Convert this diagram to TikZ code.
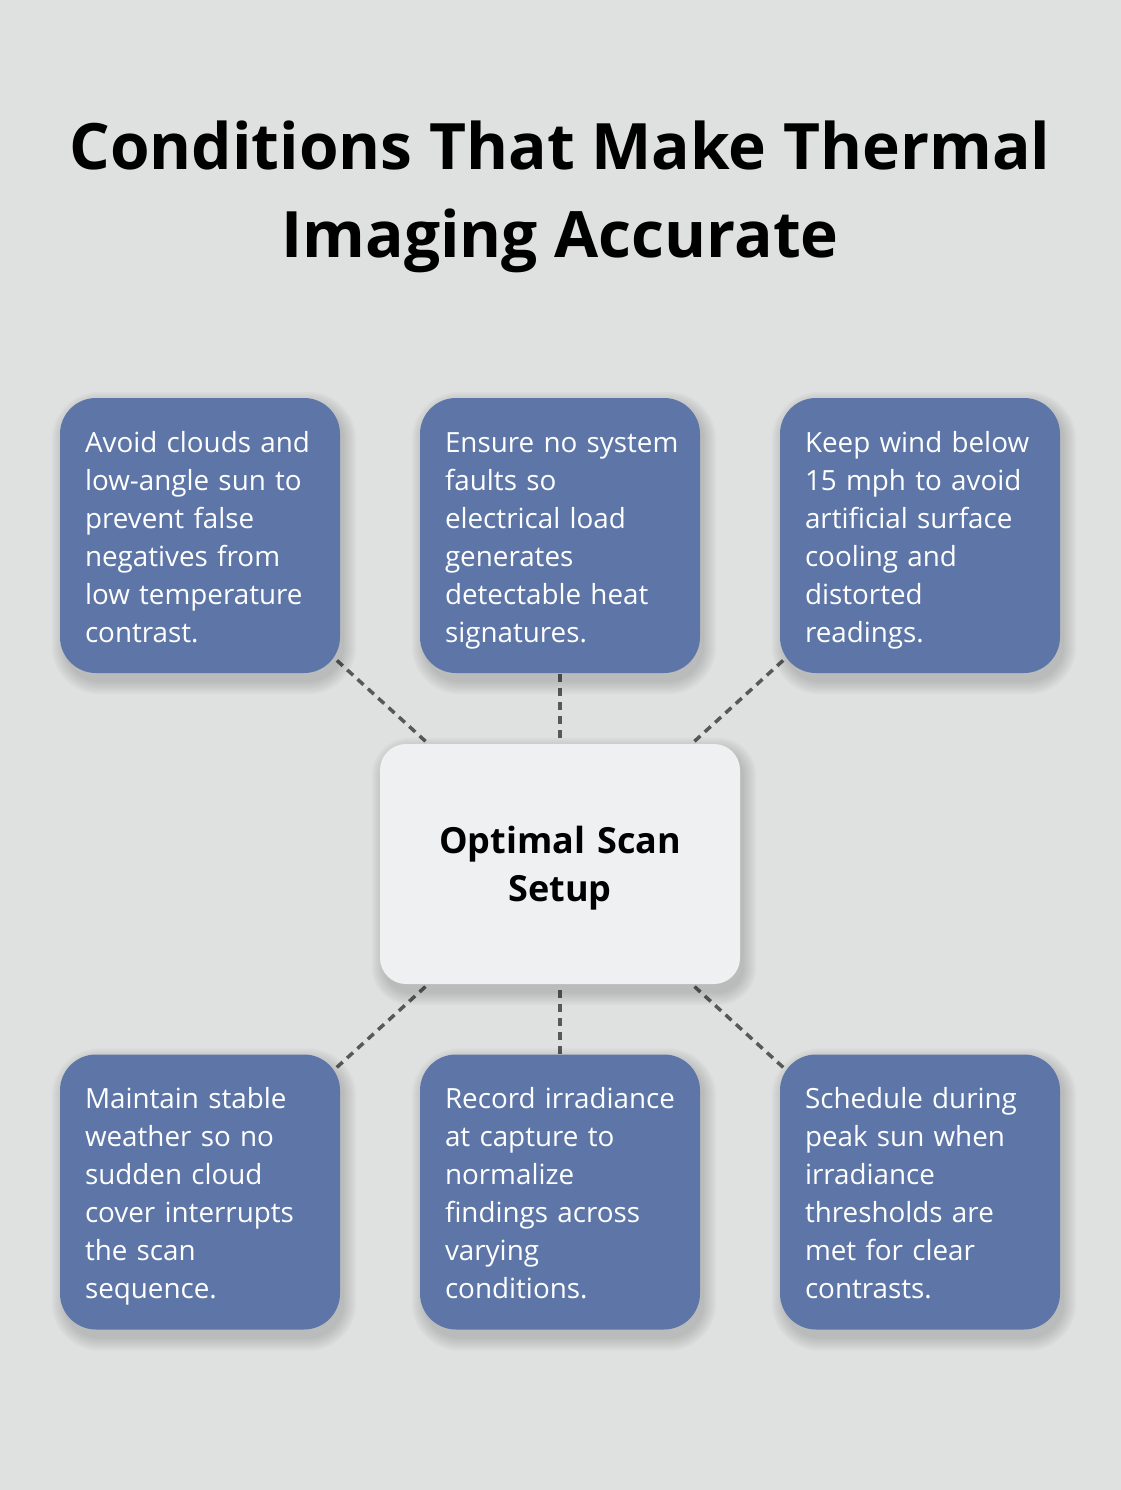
\documentclass[tikz,border=0pt]{standalone}
\usepackage{fontspec}
\setmainfont{Open Sans}
\usetikzlibrary{calc}
\definecolor{bgc}{HTML}{DFE1E0}
\definecolor{cardblue}{HTML}{5D76A7}
\definecolor{hubfill}{HTML}{EEF0F2}
\definecolor{linec}{HTML}{585858}
\pgfdeclarelayer{bg}
\pgfdeclarelayer{shadowlayer}
\pgfsetlayers{bg,shadowlayer,main}
\newcommand\cardtxt[1]{\leftskip=7.5pt\hyphenpenalty=10000\rule{0pt}{34.6pt}#1\strut\par}
\newcommand\softshadow[2]{%
  \foreach \k in {0,2,...,12}{
    \fill[black, opacity=0.022, rounded corners=#2+\k]
      ($(#1.north west)+(4-\k,6-\k)$) rectangle ($(#1.south east)+(4+\k,9+\k)$);
  }}
\tikzset{
  card/.style={rectangle, rounded corners=36pt, fill=cardblue, minimum width=280pt, minimum height=275pt,
    text width=245pt, inner xsep=17.5pt, inner ysep=0pt, align=left, text=white,
    font=\fontsize{27.8}{38}\selectfont},
  hub/.style={rectangle, rounded corners=26pt, fill=hubfill, minimum width=360pt, minimum height=240pt,
    text width=320pt, inner xsep=20pt, inner ysep=0pt, align=center, text=black,
    font=\bfseries\fontsize{36}{48}\selectfont},
  conn/.style={draw=linec, line width=3.5pt, dash pattern=on 8pt off 6pt},
  titletext/.style={font=\bfseries\fontsize{64}{87}\selectfont, text=black, anchor=base, inner sep=0pt}
}
\begin{document}
\begin{tikzpicture}[x=1pt,y=-1pt]
\useasboundingbox (0,0) rectangle (1120,1490);
\begin{pgfonlayer}{bg}
\fill[bgc] (-6,-6) rectangle (1126,1496);
\end{pgfonlayer}
\node[titletext] (t1) at (560,170) {Conditions That Make Thermal};
\node[titletext] (t2) at (560,257) {Imaging Accurate};

\node[hub] (hub) at (560,864) {\rule{0pt}{36.4pt}Optimal Scan\\Setup};

\node[card] (c1) at (200,535.5) {\cardtxt{Avoid clouds and\\low-angle sun to\\prevent false\\negatives from\\low temperature\\contrast.}};
\node[card] (c2) at (560,535.5) {\cardtxt{Ensure no system\\faults so\\electrical load\\generates\\detectable heat\\signatures.}};
\node[card] (c3) at (920,535.5) {\cardtxt{Keep wind below\\15 mph to avoid\\artificial surface\\cooling and\\distorted\\readings.}};
\node[card] (c4) at (200,1192) {\cardtxt{Maintain stable\\weather so no\\sudden cloud\\cover interrupts\\the scan\\sequence.}};
\node[card] (c5) at (560,1192) {\cardtxt{Record irradiance\\at capture to\\normalize\\findings across\\varying\\conditions.}};
\node[card] (c6) at (920,1192) {\cardtxt{Schedule during\\peak sun when\\irradiance\\thresholds are\\met for clear\\contrasts.}};

\begin{pgfonlayer}{bg}
\foreach \c in {c1,c2,c3,c4,c5,c6}{
  \draw[conn] (hub.center) -- (\c.center);
}
\end{pgfonlayer}
\begin{pgfonlayer}{shadowlayer}
\softshadow{hub}{26}
\foreach \c in {c1,c2,c3,c4,c5,c6}{
  \softshadow{\c}{36}
}
\end{pgfonlayer}
\end{tikzpicture}
\end{document}
